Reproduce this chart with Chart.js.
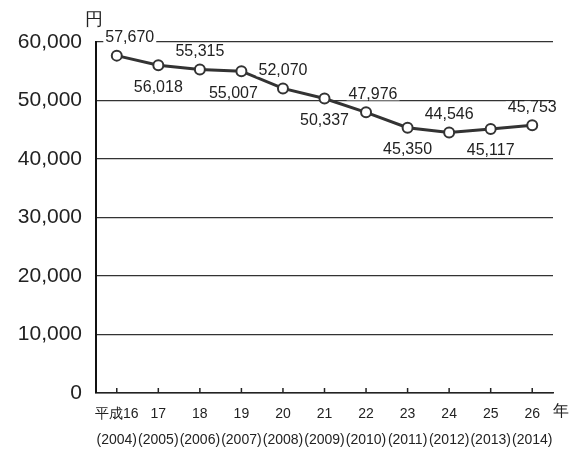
<!DOCTYPE html>
<html>
<head>
<meta charset="utf-8">
<script src="https://cdn.jsdelivr.net/npm/chart.js@4"></script>
<style>
  body { margin: 0; background: #fff; }
  #wrap { width: 571px; height: 454px; }
</style>
</head>
<body>
<div id="wrap"><canvas id="c" width="571" height="454"></canvas></div>
<script>
// data
const eraLabels = ['平成16', '17', '18', '19', '20', '21', '22', '23', '24', '25', '26'];
const years = [2004, 2005, 2006, 2007, 2008, 2009, 2010, 2011, 2012, 2013, 2014];
const amounts = [57670, 56018, 55315, 55007, 52070, 50337, 47976, 45350, 44546, 45117, 45753];
const yTicks = [0, 10000, 20000, 30000, 40000, 50000, 60000];

const FONT = "'Liberation Sans', Arial, sans-serif";
const INK = '#222';

// value labels, small ticks on the x axis, unit labels
const extras = {
  id: 'extras',
  afterDatasetsDraw(chart) {
    const ctx = chart.ctx;
    const x = chart.scales.x, y = chart.scales.y;
    const meta = chart.getDatasetMeta(0);
    ctx.save();

    // small tick marks standing on the x axis
    ctx.strokeStyle = INK;
    ctx.lineWidth = 1.5;
    eraLabels.forEach((_, i) => {
      const px = x.getPixelForValue(i);
      ctx.beginPath();
      ctx.moveTo(px, y.bottom);
      ctx.lineTo(px, y.bottom - 5);
      ctx.stroke();
    });

    // number labels, alternating above / below the points
    ctx.font = '16px ' + FONT;
    ctx.textAlign = 'center';
    ctx.textBaseline = 'middle';
    meta.data.forEach((pt, i) => {
      const txt = amounts[i].toLocaleString('en-US');
      let dx = 0, dy = (i % 2 === 0) ? -18 : 22;
      if (i === 0) dx = 13;
      if (i === 3) dx = -8;
      if (i === 6) dx = 7;
      const tx = pt.x + dx, ty = pt.y + dy;
      const w = ctx.measureText(txt).width;
      ctx.fillStyle = '#fff';
      ctx.fillRect(tx - w / 2 - 2, ty - 6, w + 4, 12);
      ctx.fillStyle = INK;
      ctx.fillText(txt, tx, ty);
    });

    // units
    ctx.font = '18px ' + FONT;
    ctx.textAlign = 'left';
    ctx.fillText('円', 85, 20);
    ctx.font = '16px ' + FONT;
    ctx.fillText('年', 553, 412);
    ctx.restore();
  }
};

new Chart(document.getElementById('c'), {
  type: 'line',
  data: {
    labels: eraLabels.map((e, i) => [e, '(' + years[i] + ')']),
    datasets: [{
      data: amounts,
      borderColor: '#333',
      borderWidth: 3,
      pointRadius: 5,
      pointBackgroundColor: '#fff',
      pointBorderColor: '#333',
      pointBorderWidth: 2,
      tension: 0
    }]
  },
  options: {
    responsive: false,
    animation: false,
    layout: { padding: { left: 0, right: 18, top: 42, bottom: 0 } },
    plugins: { legend: { display: false }, tooltip: { enabled: false } },
    scales: {
      x: {
        offset: true,
        grid: { display: false },
        border: { display: true, color: INK, width: 1.5 },
        ticks: {
          color: INK,
          padding: 0,
          maxRotation: 0,
          autoSkip: false,
          font: { family: FONT, size: 14, lineHeight: 1.85 }
        },
        afterFit(scale) { scale.height = 61; }
      },
      y: {
        min: yTicks[0],
        max: yTicks[yTicks.length - 1],
        afterBuildTicks(scale) { scale.ticks = yTicks.map(v => ({ value: v })); },
        grid: { color: '#333', lineWidth: 1.3, drawTicks: false },
        border: { display: true, color: '#111', width: 2 },
        ticks: {
          color: INK,
          padding: 14,
          font: { family: FONT, size: 21 },
          callback: v => v.toLocaleString('en-US')
        },
        afterFit(scale) { scale.width = 96; }
      }
    }
  },
  plugins: [extras]
});
</script>
</body>
</html>
